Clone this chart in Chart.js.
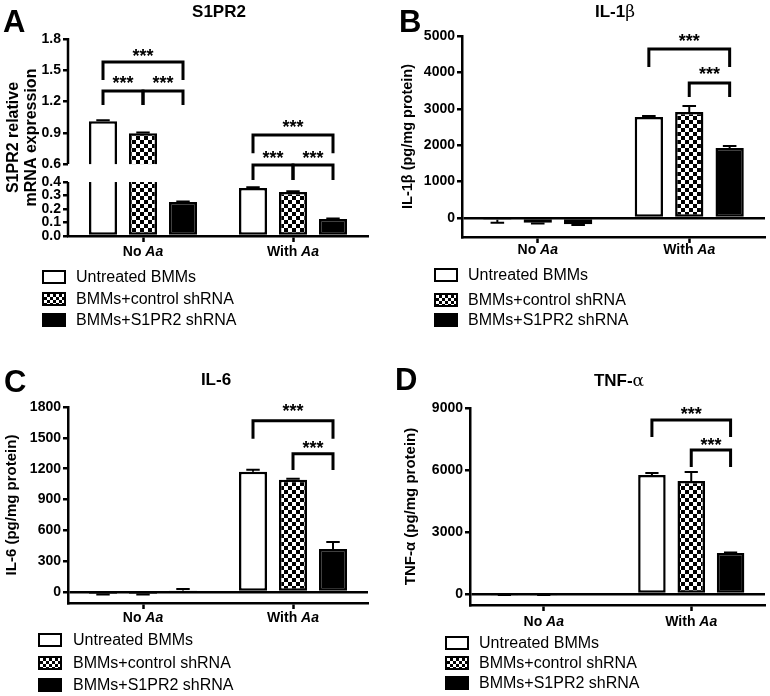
<!DOCTYPE html>
<html>
<head>
<meta charset="utf-8">
<script src="https://cdn.jsdelivr.net/npm/chart.js@4"></script>
<style>
  body { margin: 0; background: #fff; font-family: Arial, "Liberation Sans", sans-serif; }
  #fig { position: relative; width: 770px; height: 696px; overflow: hidden; }
  .panel { position: absolute; width: 385px; height: 346px; }
  .panel canvas { position: absolute; left: 0; top: 0; }
  .letter { position: absolute; font-weight: bold; font-size: 31px; line-height: 31px; }
  .title { position: absolute; width: 200px; text-align: center; font-weight: bold; font-size: 17px; line-height: 17px; }
  .title .g { font-weight: normal; font-family: "DejaVu Serif", serif; }
  .leg { position: absolute; left: 0; width: 385px; height: 18px; font-size: 16px; line-height: 18px; white-space: nowrap; }
  .leg .sw { position: absolute; top: 2px; box-sizing: border-box; width: 24px; height: 14px; border: 2.5px solid #000; }
  .leg span { position: absolute; top: 0; }
</style>
</head>
<body>
<div id="fig">
  <div class="panel" id="pA" style="left:0;top:0"><canvas id="cA" width="385" height="346"></canvas></div>
  <div class="panel" id="pB" style="left:385px;top:0"><canvas id="cB" width="385" height="346"></canvas></div>
  <div class="panel" id="pC" style="left:0;top:350px"><canvas id="cC" width="385" height="346"></canvas></div>
  <div class="panel" id="pD" style="left:385px;top:350px"><canvas id="cD" width="385" height="346"></canvas></div>
</div>
<script>
// categories and series
const groups = ['No Aa', 'With Aa'];
const seriesNames = ['Untreated BMMs', 'BMMs+control shRNA', 'BMMs+S1PR2 shRNA'];

// A: S1PR2 relative mRNA
const s1pr2Untreated = [1.01, 0.356];
const s1pr2Control = [0.897, 0.326];
const s1pr2Knock = [0.252, 0.126];
const s1pr2UntreatedErr = [0.01, 0.005];
const s1pr2ControlErr = [0.005, 0.005];
const s1pr2KnockErr = [0.004, 0.004];
const s1pr2Ticks = [0, 0.1, 0.2, 0.3, 0.4, 0.6, 0.9, 1.2, 1.5, 1.8];

// B: IL-1beta
const il1bUntreated = [-50, 2775];
const il1bControl = [-130, 2912];
const il1bKnock = [-170, 1923];
const il1bUntreatedErr = [80, 25];
const il1bControlErr = [20, 165];
const il1bKnockErr = [20, 57];
const il1bTicks = [0, 1000, 2000, 3000, 4000, 5000];

// C: IL-6
const il6Untreated = [-20, 1169];
const il6Control = [-20, 1091];
const il6Knock = [15, 419];
const il6UntreatedErr = [5, 20];
const il6ControlErr = [5, 10];
const il6KnockErr = [15, 68];
const il6Ticks = [0, 300, 600, 900, 1200, 1500, 1800];

// D: TNF-alpha
const tnfUntreated = [-40, 5760];
const tnfControl = [-40, 5469];
const tnfKnock = [0, 1984];
const tnfUntreatedErr = [5, 90];
const tnfControlErr = [5, 440];
const tnfKnockErr = [0, 30];
const tnfTicks = [0, 3000, 6000, 9000];

// significance brackets: [group, fromSeries, toSeries, lineValue, legEndValue]
const s1pr2Brackets = [[0, 0, 2, 1.579, 1.406], [0, 0, 1, 1.30, 1.166], [0, 1, 2, 1.30, 1.166],
                       [1, 0, 2, 0.878, 0.705], [1, 0, 1, 0.589, 0.422], [1, 1, 2, 0.589, 0.422]];
const s1pr2Stars = [[0, 0, 2, 1.665], [0, 0, 1, 1.406], [0, 1, 2, 1.406],
                    [1, 0, 2, 0.984], [1, 0, 1, 0.686], [1, 1, 2, 0.686]];
const il1bBrackets = [[1, 0, 2, 4643, 4148], [1, 1, 2, 3709, 3324]];
const il1bStars = [[1, 0, 2, 4945], [1, 1, 2, 4038]];
const il6Brackets = [[1, 0, 2, 1666, 1490], [1, 1, 2, 1344, 1188]];
const il6Stars = [[1, 0, 2, 1792], [1, 1, 2, 1432]];
const tnfBrackets = [[1, 0, 2, 8421, 7600], [1, 1, 2, 6970, 6147]];
const tnfStars = [[1, 0, 2, 8857], [1, 1, 2, 7357]];

const FONT = 'Arial, "Liberation Sans", sans-serif';

// broken y axis for panel A (0-0.4 below, 0.6-1.8 above)
const breakLow = 0.4, breakHigh = 0.6;
const segLow = 0.274, segGap = 0.091;

function brokenDecimal(v) {
  if (v <= breakLow) return v / breakLow * segLow;
  if (v < breakHigh) return segLow + (v - breakLow) / (breakHigh - breakLow) * segGap;
  return segLow + segGap + (v - breakHigh) / (1.8 - breakHigh) * (1 - segLow - segGap);
}

class BrokenScale extends Chart.LinearScale {
  getPixelForValue(value) {
    return this.getPixelForDecimal(brokenDecimal(value));
  }
  getValueForPixel(pixel) {
    const d = this.getDecimalForPixel(pixel);
    if (d <= segLow) return d / segLow * breakLow;
    if (d <= segLow + segGap) return breakLow + (d - segLow) / segGap * (breakHigh - breakLow);
    return breakHigh + (d - segLow - segGap) / (1 - segLow - segGap) * (1.8 - breakHigh);
  }
}
BrokenScale.id = 'broken';
BrokenScale.defaults = Chart.LinearScale.defaults;
Chart.register(BrokenScale);

function checker(ctx) {
  const tile = document.createElement('canvas');
  tile.width = 8; tile.height = 8;
  const g = tile.getContext('2d');
  g.fillStyle = '#fff'; g.fillRect(0, 0, 8, 8);
  g.fillStyle = '#000'; g.fillRect(0, 0, 4, 4); g.fillRect(4, 4, 4, 4);
  return ctx.createPattern(tile, 'repeat');
}

function makeChart(id, p) {
  const canvas = document.getElementById(id);
  const ctx2d = canvas.getContext('2d');
  const fills = ['#fff', checker(ctx2d), '#000'];

  const extras = {
    id: 'extras',
    afterDatasetsDraw(chart) {
      const ctx = chart.ctx;
      const area = chart.chartArea;
      const y = chart.scales.y;
      const x = chart.scales.x;
      ctx.save();
      ctx.strokeStyle = '#000';
      ctx.fillStyle = '#000';

      if (p.broken) {
        const top = y.getPixelForValue(breakHigh), bot = y.getPixelForValue(breakLow);
        ctx.fillStyle = '#fff';
        ctx.fillRect(area.left + 2, top, area.right - area.left, bot - top);
        ctx.fillStyle = '#000';
        ctx.lineWidth = 2.5;
        ctx.beginPath();
        ctx.moveTo(area.left, y.getPixelForValue(0) + 1);
        ctx.lineTo(area.left, bot);
        ctx.moveTo(area.left, top);
        ctx.lineTo(area.left, y.getPixelForValue(1.8) - 1);
        ctx.stroke();
      }

      // error bars
      ctx.lineWidth = 2;
      chart.data.datasets.forEach((ds, i) => {
        const meta = chart.getDatasetMeta(i);
        ds.data.forEach((v, j) => {
          const e = ds.errors[j];
          if (!e) return;
          const el = meta.data[j];
          const sign = v >= 0 ? 1 : -1;
          const yEnd = y.getPixelForValue(v + sign * e);
          const cap = el.width * 0.24;
          ctx.beginPath();
          ctx.moveTo(el.x, el.y);
          ctx.lineTo(el.x, yEnd);
          ctx.moveTo(el.x - cap, yEnd);
          ctx.lineTo(el.x + cap, yEnd);
          ctx.stroke();
        });
      });

      // brackets
      const barX = (s, g) => chart.getDatasetMeta(s).data[g].x;
      ctx.lineWidth = 3;
      ctx.lineJoin = 'miter';
      p.brackets.forEach(([g, a, b, line, leg]) => {
        const xa = barX(a, g), xb = barX(b, g);
        ctx.beginPath();
        ctx.moveTo(xa, y.getPixelForValue(leg));
        ctx.lineTo(xa, y.getPixelForValue(line));
        ctx.lineTo(xb, y.getPixelForValue(line));
        ctx.lineTo(xb, y.getPixelForValue(leg));
        ctx.stroke();
      });
      ctx.font = 'bold 18px ' + FONT;
      ctx.textAlign = 'center';
      ctx.textBaseline = 'middle';
      p.stars.forEach(([g, a, b, val]) => {
        ctx.fillText('***', (barX(a, g) + barX(b, g)) / 2, y.getPixelForValue(val) + 4);
      });

      // category labels with italic "Aa"
      ctx.textBaseline = 'middle';
      ctx.textAlign = 'left';
      groups.forEach((label, i) => {
        const cut = label.lastIndexOf(' ') + 1;
        const head = label.slice(0, cut), tail = label.slice(cut);
        ctx.font = 'bold 14px ' + FONT;
        const w1 = ctx.measureText(head).width;
        ctx.font = 'italic bold 14px ' + FONT;
        const w2 = ctx.measureText(tail).width;
        const cx = x.getPixelForValue(i);
        const ly = area.bottom + p.labelGap;
        ctx.font = 'bold 14px ' + FONT;
        ctx.fillText(head, cx - (w1 + w2) / 2, ly);
        ctx.font = 'italic bold 14px ' + FONT;
        ctx.fillText(tail, cx - (w1 + w2) / 2 + w1, ly);
      });
      ctx.restore();
    }
  };

  return new Chart(canvas, {
    type: 'bar',
    data: {
      labels: groups,
      datasets: p.values.map((v, i) => ({
        label: seriesNames[i],
        data: v,
        errors: p.errors[i],
        backgroundColor: fills[i],
        borderColor: '#000',
        borderWidth: 2.5,
        borderSkipped: false,
        categoryPercentage: 0.8,
        barPercentage: 0.7
      }))
    },
    options: {
      responsive: false,
      animation: false,
      layout: { padding: p.pad },
      plugins: { legend: { display: false }, tooltip: { enabled: false } },
      scales: {
        x: {
          grid: { offset: false, drawOnChartArea: false, tickLength: 6, tickColor: '#000', tickWidth: 2.5 },
          border: { color: '#000', width: 2.5 },
          ticks: { display: false },
          afterFit: s => { s.height = 20; }
        },
        y: {
          type: p.broken ? 'broken' : 'linear',
          min: p.min,
          max: p.max,
          afterBuildTicks: s => { s.ticks = p.ticks.map(v => ({ value: v })); },
          ticks: {
            color: '#000',
            padding: 2,
            font: { family: FONT, weight: 'bold', size: 14 },
            callback: v => p.broken ? v.toFixed(1) : String(v)
          },
          grid: {
            drawOnChartArea: !p.broken,
            color: c => (c.tick && c.tick.value === 0) ? '#000' : 'rgba(0,0,0,0)',
            lineWidth: 2.5,
            tickLength: 5,
            tickColor: '#000',
            tickWidth: 2.5
          },
          border: { display: !p.broken, color: '#000', width: 2.5 },
          title: {
            display: true,
            text: p.yTitle,
            color: '#000',
            padding: 0,
            font: { family: FONT, weight: 'bold', size: p.yTitleSize, lineHeight: 1.1 }
          },
          afterFit: s => { s.width = p.yWidth; }
        }
      }
    },
    plugins: [extras]
  });
}

function decorate(panelId, letter, letterPos, titleHtml, titlePos, legend) {
  const panel = document.getElementById(panelId);
  const l = document.createElement('div');
  l.className = 'letter';
  l.textContent = letter;
  l.style.left = letterPos[0] + 'px';
  l.style.top = letterPos[1] + 'px';
  panel.appendChild(l);

  const t = document.createElement('div');
  t.className = 'title';
  t.innerHTML = titleHtml;
  t.style.left = (titlePos[0] - 100) + 'px';
  t.style.top = titlePos[1] + 'px';
  panel.appendChild(t);

  const swatches = ['#fff', 'repeating-conic-gradient(#000 0 25%, #fff 0 50%) 0 0 / 6px 6px', '#000'];
  seriesNames.forEach((name, i) => {
    const row = document.createElement('div');
    row.className = 'leg';
    row.style.top = (legend.rows[i] - 9) + 'px';
    const sw = document.createElement('div');
    sw.className = 'sw';
    sw.style.left = legend.box + 'px';
    sw.style.background = swatches[i];
    const tx = document.createElement('span');
    tx.style.left = legend.text + 'px';
    tx.textContent = name;
    row.appendChild(sw);
    row.appendChild(tx);
    panel.appendChild(row);
  });
}

makeChart('cA', {
  broken: true, min: 0, max: 1.8, ticks: s1pr2Ticks,
  values: [s1pr2Untreated, s1pr2Control, s1pr2Knock],
  errors: [s1pr2UntreatedErr, s1pr2ControlErr, s1pr2KnockErr],
  brackets: s1pr2Brackets, stars: s1pr2Stars,
  yTitle: ['S1PR2 relative', 'mRNA expression'], yTitleSize: 16,
  yWidth: 63, pad: { left: 5, top: 39, right: 17, bottom: 90 }, labelGap: 16
});
makeChart('cB', {
  broken: false, min: -522, max: 5000, ticks: il1bTicks,
  values: [il1bUntreated, il1bControl, il1bKnock],
  errors: [il1bUntreatedErr, il1bControlErr, il1bKnockErr],
  brackets: il1bBrackets, stars: il1bStars,
  yTitle: 'IL-1β (pg/mg protein)', yTitleSize: 14.5,
  yWidth: 62, pad: { left: 15, top: 36, right: 5, bottom: 89 }, labelGap: 13
});
makeChart('cC', {
  broken: false, min: -107, max: 1800, ticks: il6Ticks,
  values: [il6Untreated, il6Control, il6Knock],
  errors: [il6UntreatedErr, il6ControlErr, il6KnockErr],
  brackets: il6Brackets, stars: il6Stars,
  yTitle: 'IL-6 (pg/mg protein)', yTitleSize: 15,
  yWidth: 64, pad: { left: 4, top: 57, right: 17, bottom: 73 }, labelGap: 15
});
makeChart('cD', {
  broken: false, min: -532, max: 9000, ticks: tnfTicks,
  values: [tnfUntreated, tnfControl, tnfKnock],
  errors: [tnfUntreatedErr, tnfControlErr, tnfKnockErr],
  brackets: tnfBrackets, stars: tnfStars,
  yTitle: 'TNF-α (pg/mg protein)', yTitleSize: 15,
  yWidth: 67, pad: { left: 18, top: 58, right: 5, bottom: 71 }, labelGap: 17
});

decorate('pA', 'A', [3, 6], 'S1PR2', [219, 3], { box: 42, text: 76, rows: [277, 299, 320] });
decorate('pB', 'B', [14, 6], 'IL-1<span class="g">β</span>', [230, 3], { box: 49, text: 83, rows: [275, 300, 320] });
decorate('pC', 'C', [4, 16], 'IL-6', [216, 21], { box: 38, text: 73, rows: [290, 313, 335] });
decorate('pD', 'D', [10, 14], 'TNF-<span class="g">α</span>', [234, 22], { box: 60, text: 94, rows: [293, 313, 333] });
</script>
</body>
</html>
